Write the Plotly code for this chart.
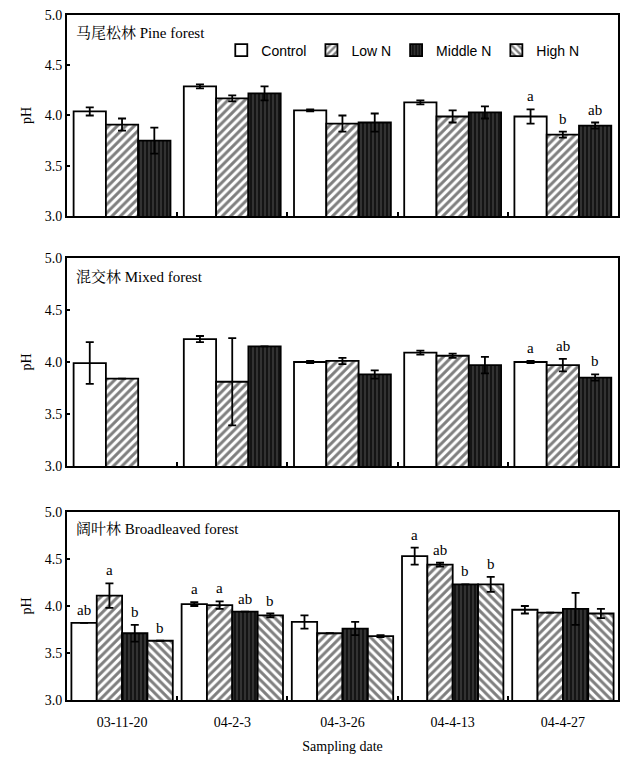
import plotly.graph_objects as go
from plotly.subplots import make_subplots

dates = ["03-11-20", "04-2-3", "04-3-26", "04-4-13", "04-4-27"]
treatments = ["Control", "Low N", "Middle N", "High N"]

# Pine forest
pine_control = [4.04, 4.29, 4.05, 4.13, 3.99]
pine_control_err = [0.04, 0.02, 0.01, 0.02, 0.07]
pine_low = [3.91, 4.17, 3.92, 3.99, 3.81]
pine_low_err = [0.06, 0.03, 0.08, 0.06, 0.03]
pine_mid = [3.75, 4.22, 3.93, 4.03, 3.90]
pine_mid_err = [0.13, 0.07, 0.09, 0.06, 0.03]
pine_letters = [["", "", "", "", "a"], ["", "", "", "", "b"], ["", "", "", "", "ab"]]

# Mixed forest
mixed_control = [3.99, 4.22, 4.00, 4.09, 4.00]
mixed_control_err = [0.20, 0.03, 0.01, 0.02, 0.01]
mixed_low = [3.84, 3.81, 4.01, 4.06, 3.97]
mixed_low_err = [0.0, 0.42, 0.03, 0.02, 0.06]
mixed_mid = [None, 4.15, 3.88, 3.97, 3.85]
mixed_mid_err = [0.0, 0.0, 0.04, 0.08, 0.03]
mixed_letters = [["", "", "", "", "a"], ["", "", "", "", "ab"], ["", "", "", "", "b"]]

# Broadleaved forest
broad_control = [3.82, 4.02, 3.83, 4.53, 3.96]
broad_control_err = [0.0, 0.02, 0.07, 0.09, 0.04]
broad_low = [4.11, 4.01, 3.71, 4.44, 3.93]
broad_low_err = [0.13, 0.04, 0.0, 0.02, 0.0]
broad_mid = [3.71, 3.94, 3.76, 4.23, 3.97]
broad_mid_err = [0.09, 0.0, 0.07, 0.0, 0.17]
broad_high = [3.63, 3.90, 3.68, 4.23, 3.92]
broad_high_err = [0.0, 0.02, 0.01, 0.08, 0.05]
broad_letters = [["ab", "a", "", "a", ""], ["a", "a", "", "ab", ""],
                 ["b", "ab", "", "b", ""], ["b", "b", "", "b", ""]]

panel_titles = ["马尾松林 Pine forest", "混交林 Mixed forest", "阔叶林 Broadleaved forest"]

SERIF = "Liberation Serif, Noto Serif CJK SC, Noto Sans CJK SC, serif"

styles = {
    "Control": dict(color="white", pattern=dict(shape="")),
    "Low N": dict(color="white", pattern=dict(shape="/", fgcolor="black", bgcolor="white", size=6, solidity=0.5)),
    "Middle N": dict(color="#141414", pattern=dict(shape="|", fgcolor="#8a8a8a", bgcolor="#141414", size=4, solidity=0.25)),
    "High N": dict(color="white", pattern=dict(shape="\\", fgcolor="black", bgcolor="white", size=6, solidity=0.5)),
}

fig = make_subplots(rows=3, cols=1, vertical_spacing=0.05)

panels = [
    ([pine_control, pine_low, pine_mid], [pine_control_err, pine_low_err, pine_mid_err], pine_letters, 0.293, -0.44),
    ([mixed_control, mixed_low, mixed_mid], [mixed_control_err, mixed_low_err, mixed_mid_err], mixed_letters, 0.293, -0.44),
    ([broad_control, broad_low, broad_mid, broad_high],
     [broad_control_err, broad_low_err, broad_mid_err, broad_high_err], broad_letters, 0.23, -0.46),
]

xs = list(range(len(dates)))
legend_shown = set()
for r, (series, errs, letters, w, start) in enumerate(panels, start=1):
    sfx = '' if r == 1 else str(r)
    for i, (vals, er) in enumerate(zip(series, errs)):
        name = treatments[i]
        st = styles[name]
        show = name not in legend_shown
        legend_shown.add(name)
        fig.add_trace(go.Bar(
            x=xs, y=vals, name=name, showlegend=show, legendrank=i,
            width=w, offset=start + i * w,
            marker=dict(color=st["color"], line=dict(color="black", width=1.8), pattern=st["pattern"]),
            error_y=dict(type="data", array=er, visible=True, color="black", thickness=1.8, width=4),
        ), row=r, col=1)
        for j, lab in enumerate(letters[i]):
            if lab and vals[j] is not None:
                fig.add_annotation(
                    x=xs[j] + start + (i + 0.5) * w, y=vals[j] + er[j], text=lab,
                    xref=f"x{sfx}", yref=f"y{sfx}",
                    showarrow=False, yanchor="bottom", yshift=3,
                    font=dict(family=SERIF, size=15, color="black"))
    fig.add_annotation(
        x=0.012, y=0.91, xref=f"x{sfx} domain", yref=f"y{sfx} domain",
        text=panel_titles[r - 1], showarrow=False, xanchor="left", yanchor="middle",
        font=dict(family=SERIF, size=15, color="black"))

domains = [[0.7066, 1.0], [0.3416, 0.6453], [0.0, 0.2745]]
for r in range(1, 4):
    fig.update_yaxes(
        range=[3.0, 5.0], dtick=0.5, tickformat=".1f", domain=domains[r - 1],
        ticks="inside", ticklen=3, tickwidth=1.5, tickcolor="black",
        showline=True, linecolor="black", linewidth=1.8, mirror=True,
        showgrid=False, zeroline=False, automargin=False,
        title=dict(text="pH", font=dict(family=SERIF, size=14, color="black"), standoff=10),
        tickfont=dict(family=SERIF, size=14, color="black"),
        row=r, col=1)
    fig.update_xaxes(
        range=[-0.5, 4.5], tickvals=xs, ticktext=dates if r == 3 else [""] * 5,
        ticks="", showticklabels=(r == 3), automargin=False, ticklabelstandoff=8,
        minor=dict(tickvals=[0.5, 1.5, 2.5, 3.5], ticks="inside", ticklen=4, tickwidth=1.5, tickcolor="black"),
        showline=True, linecolor="black", linewidth=1.8, mirror=True,
        showgrid=False, zeroline=False,
        tickfont=dict(family=SERIF, size=14, color="black"),
        row=r, col=1)

fig.update_xaxes(title=dict(text="Sampling date", font=dict(family=SERIF, size=14, color="black"), standoff=12),
                 row=3, col=1)

fig.update_layout(
    width=626, height=760,
    margin=dict(l=67, r=8, t=15, b=60),
    paper_bgcolor="white", plot_bgcolor="white",
    barmode="overlay",
    showlegend=True,
    legend=dict(orientation="h", x=0.28, y=0.948, xanchor="left", yanchor="middle",
                font=dict(family="Liberation Sans, Arial, sans-serif", size=14, color="black"),
                bgcolor="rgba(0,0,0,0)", itemwidth=30, tracegroupgap=0,
                traceorder="normal"),
)

# remove the browser's default 8px page margin so the figure fills the window exactly
fig.write_html("out.html", config={"displayModeBar": False},
               post_script="document.body.style.margin='0px';document.body.style.overflow='hidden';")
